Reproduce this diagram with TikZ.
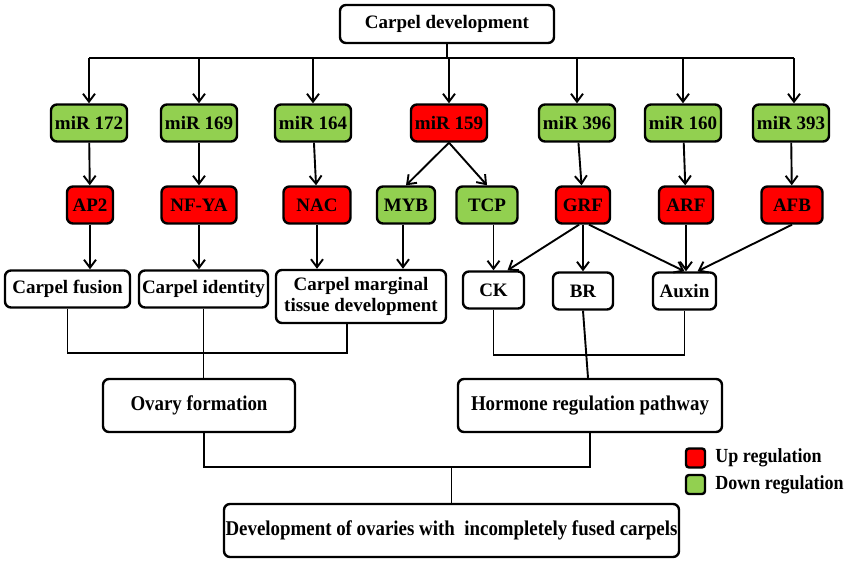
\documentclass[tikz,border=0pt]{standalone}
\definecolor{upred}{RGB}{255,0,0}
\definecolor{downgreen}{RGB}{146,208,80}
\usepackage{fontspec}
\setmainfont{Liberation Serif}
\newfontfamily\narrowfont[FakeStretch=0.9]{Liberation Serif}
\usepackage{tikz}
\usetikzlibrary{arrows.meta, positioning}
\tikzset{
>={Straight Barb[length=8pt,width=12pt]}, % open v-shaped arrow heads
x=1pt, y=-1pt, % one unit is one pixel of the figure, y grows downwards
box/.style={draw, line width=2.4pt, rounded corners=6pt, inner sep=0pt, minimum height=37pt, align=center, font=\fontsize{19}{21}\selectfont\bfseries}, % every box of the chart
up/.style={box, fill=upred}, % up regulated
down/.style={box, fill=downgreen}, % down regulated
plain/.style={box, fill=white}, % process boxes
wide/.style={plain, minimum height=53pt, font=\fontsize{21}{23}\narrowfont\bfseries}, % lower boxes
link/.style={line width=1.9pt}, % connecting lines
}
\tikzset{
  keybox/.style={draw, line width=2.4pt, rounded corners=3pt, minimum size=19pt, inner sep=0pt},
  keytext/.style={inner sep=0pt, font=\fontsize{20}{22}\narrowfont\bfseries}
}

\begin{document}
\begin{tikzpicture}
      \useasboundingbox (0,0) rectangle (851,561);

      \node[plain, minimum width=214pt, minimum height=38pt] (top) at (447,24) {Carpel development};

      \node[down, minimum width=76pt] (m172) at (89,123) {miR 172};
      \node[down, minimum width=76pt] (m169) at (199,123) {miR 169};
      \node[down, minimum width=76pt] (m164) at (313,123) {miR 164};
      \node[up, minimum width=76pt] (m159) at (449,123) {miR 159};
      \node[down, minimum width=76pt] (m396) at (577,123) {miR 396};
      \node[down, minimum width=76pt] (m160) at (683,123) {miR 160};
      \node[down, minimum width=76pt] (m393) at (791,123) {miR 393};

      \node[up, minimum width=46pt] (ap2) at (90,205) {AP2};
      \node[up, minimum width=75pt] (nfya) at (199,205) {NF-YA};
      \node[up, minimum width=67pt] (nac) at (317,205) {NAC};
      \node[down, minimum width=58pt] (myb) at (406,205) {MYB};
      \node[down, minimum width=61pt] (tcp) at (487,205) {TCP};
      \node[up, minimum width=54pt] (grf) at (583,205) {GRF};
      \node[up, minimum width=54pt] (arf) at (686,205) {ARF};
      \node[up, minimum width=61pt] (afb) at (792,205) {AFB};

      \node[plain, minimum width=125pt] (fusion) at (67.5,289) {Carpel fusion};
      \node[plain, minimum width=129pt] (ident) at (203.5,289) {Carpel identity};
      \node[plain, minimum width=170pt, minimum height=53pt] (marg) at (361,296.5) {Carpel marginal\\tissue development};
      \node[plain, minimum width=61pt] (ck) at (493.5,290) {CK};
      \node[plain, minimum width=60pt] (br) at (583,291) {BR};
      \node[plain, minimum width=63pt] (aux) at (684.5,291) {Auxin};

      \node[wide, minimum width=192pt] (ovary) at (199,405.5) {Ovary formation};
      \node[wide, minimum width=264pt] (horm) at (590,405.5) {Hormone regulation pathway};
      \node[wide, minimum width=455pt] (final) at (451.5,530.5) {Development of ovaries with \ incompletely fused carpels};

      \node[keybox, fill=upred] (upkey) at (695.5,458) {};
      \node[keybox, fill=downgreen] (downkey) at (695.5,484.5) {};
      \node[keytext, right=9pt of upkey] (uptext) {Up regulation};
      \node[keytext, right=9pt of downkey] (downtext) {Down regulation};

      \coordinate (busL) at (89,58);
      \coordinate (busR) at (794,58);
      \coordinate (lowL) at (200,353);
      \coordinate (lowR) at (590,355);
      \coordinate (lowM) at (451,467);

      \draw[link] (top) -- (top |- busL)
      (busL) -- (busR);
      \draw[link, ->] (m172 |- busL) -- (m172);
      \draw[link, ->] (m169 |- busL) -- (m169);
      \draw[link, ->] (m164 |- busL) -- (m164);
      \draw[link, ->] (m159 |- busL) -- (m159);
      \draw[link, ->] (m396 |- busL) -- (m396);
      \draw[link, ->] (m160 |- busL) -- (m160);
      \draw[link, ->] (busR) -- (busR |- m393.north);

      \draw[link, ->] (m172) -- (ap2);
      \draw[link, ->] (m169) -- (nfya);
      \draw[link, ->] (m164) -- (nac);
      \draw[link, ->] (m159.south) -- (myb.north);
      \draw[link, ->] (m159.south) -- (tcp.north);
      \draw[link, ->] (m396) -- (grf);
      \draw[link, ->] (m160) -- (arf);
      \draw[link, ->] (m393) -- (afb);

      \draw[link, ->] (ap2.south) -- (ap2.south |- fusion.north);
      \draw[link, ->] (nfya.south) -- (nfya.south |- ident.north);
      \draw[link, ->] (nac.south) -- (nac.south |- marg.north);
      \draw[link, ->] ([xshift=-3pt]myb.south) -- ([xshift=-3pt]myb.south |- marg.north);
      \draw[link, ->] (ck |- tcp.south) -- (ck);
      \draw[link, ->] ([xshift=-4pt]grf.south) -- ([xshift=14pt]ck.north);
      \draw[link, ->] (grf.south) -- (br.north);
      \draw[link, ->] ([xshift=6pt]grf.south) -- (aux.north);
      \draw[link, ->] (arf.south) -- (arf.south |- aux.north);
      \draw[link, ->] (afb.south) -- ([xshift=13pt]aux.north);

      \draw[link] (fusion.south) |- (lowL) -| ([xshift=-14pt]marg.south);
      \draw[link] (ident.south) -- (ident.south |- ovary.north);
      \draw[link] (ck.south) |- (lowR) -| (aux.south);
      \draw[link] (br.south) -- ([xshift=-2pt]horm.north);
      \draw[link] ([xshift=5pt]ovary.south) |- (lowM) -| (horm.south);
      \draw[link] (final.north |- lowM) -- (final.north);
    \end{tikzpicture}
\end{document}
